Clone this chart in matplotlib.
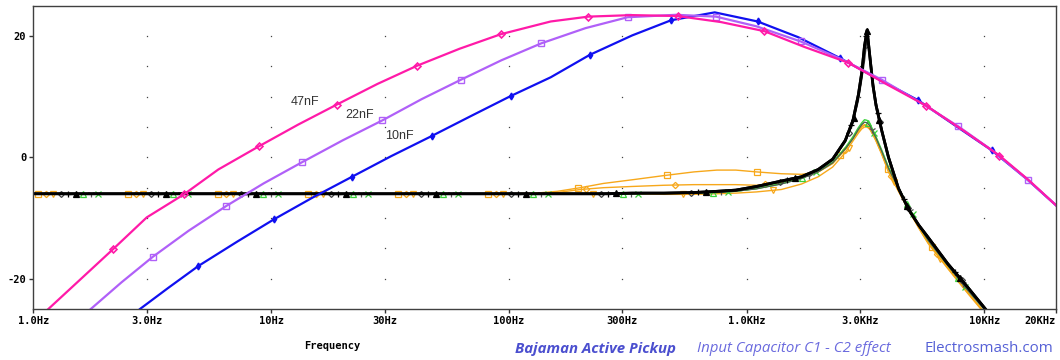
import numpy as np
import matplotlib
matplotlib.use('Agg')
import matplotlib.pyplot as plt

# ---- bandpass curves (C1 = 47nF / 22nF / 10nF), dB vs Hz
hz_47 = [1.157, 1.6, 2.17, 3.0, 4.30, 6.0, 8.87, 13, 18.9, 28, 41.1, 62, 92.5, 150, 216,
         330, 512, 780, 1187, 1750, 2677, 3900, 5700, 8100, 11560, 15300, 20000]
db_47 = [-25.0, -19.9, -15.1, -9.9, -6.1, -2.0, 1.8, 5.4, 8.7, 12.1, 15.1, 17.9, 20.3, 22.4, 23.2,
         23.45, 23.3, 22.3, 20.8, 18.2, 15.6, 12.0, 8.5, 4.5, 0.3, -3.7, -7.9]

hz_22 = [1.745, 2.35, 3.18, 4.5, 6.49, 9.3, 13.5, 20, 29.4, 43, 62.9, 93, 137, 210, 316,
         505, 743, 1100, 1689, 2500, 3700, 5400, 7770, 11000, 15300, 20000]
db_22 = [-25.0, -20.6, -16.4, -12.1, -8.0, -4.3, -0.8, 2.8, 6.1, 9.6, 12.8, 16.0, 18.8, 21.3, 23.1,
         23.5, 23.2, 21.6, 19.1, 16.2, 12.8, 9.0, 5.1, 0.9, -3.8, -7.9]

hz_10 = [2.81, 3.7, 4.95, 7.2, 10.3, 15, 21.9, 32, 47.3, 70, 101.7, 150, 219, 330, 481,
         734, 1112, 1650, 2460, 3500, 5270, 7500, 10740, 15000, 20000]
db_10 = [-25.0, -21.5, -17.9, -13.9, -10.2, -6.6, -3.2, 0.2, 3.5, 6.9, 10.1, 13.2, 16.9, 20.1, 22.6,
         23.9, 22.4, 19.8, 16.4, 13.1, 9.4, 5.3, 1.15, -3.5, -7.9]

# ---- C2 sweep traces (flat at -6 dB with resonance near 3.2kHz)
flat_hz = [1, 100, 130, 160, 200, 250, 330, 450, 600, 750, 900, 1100, 1400, 1700, 2000, 2300,
           2600, 2800, 2950, 3050, 3130, 3210, 3300, 3400, 3500, 3700, 3950, 4350, 4800, 5300,
           5800, 7000, 8500, 10000, 11000]
high_db = [-6.0, -6.0, -6.0, -6.0, -6.0, -6.0, -5.9, -5.9, -5.8, -5.6, -5.4, -4.8, -3.9, -3.2, -2.0, -0.3,
           2.8, 6.1, 10.3, 14.0, 18.3, 21.0, 16.5, 11.8, 8.6, 4.4, 0.0, -5.1, -8.6, -11.2,
           -13.2, -17.5, -21.4, -24.8, -26.8]
high2_db = [-6.0, -6.0, -6.0, -6.0, -6.0, -6.0, -5.9, -5.9, -5.8, -5.6, -5.4, -4.9, -4.0, -3.3, -2.1, -0.5,
            2.5, 5.6, 9.3, 12.8, 15.8, 19.5, 17.3, 12.5, 9.2, 4.8, 0.3, -4.9, -8.5, -11.1,
            -13.1, -17.4, -21.3, -24.7, -26.7]
low_db = [-6.0, -6.0, -6.0, -6.0, -6.0, -6.0, -6.0, -5.9, -5.9, -5.8, -5.6, -5.1, -4.3, -3.4, -2.3, -0.8,
          1.6, 3.4, 4.9, 5.7, 6.2, 6.1, 5.5, 4.5, 3.4, 1.2, -1.6, -5.0, -8.2, -11.2,
          -13.6, -17.7, -21.8, -25.0, -27.0]
low2_db = [-6.0, -6.0, -6.0, -6.0, -6.0, -6.0, -6.0, -5.9, -5.9, -5.8, -5.6, -5.2, -4.4, -3.5, -2.4, -0.9,
           1.4, 3.1, 4.6, 5.4, 5.8, 5.7, 5.2, 4.2, 3.2, 1.0, -1.8, -5.1, -8.3, -11.3,
           -13.7, -17.8, -21.9, -25.1, -27.1]
org_sq_db = [-6.0, -6.0, -5.9, -5.6, -5.0, -4.3, -3.7, -3.0, -2.4, -2.1, -2.1, -2.4, -2.7, -2.8, -2.4, -1.0,
             1.4, 3.3, 4.5, 5.1, 5.4, 5.3, 4.8, 3.9, 2.9, 0.7, -2.2, -5.4, -8.5, -11.5,
             -14.0, -18.1, -22.2, -25.5, -27.5]
org_dm_db = [-6.0, -6.0, -6.0, -5.8, -5.3, -5.0, -4.8, -4.6, -4.5, -4.5, -4.5, -4.6, -4.2, -3.4, -2.4, -1.0,
             1.3, 3.1, 4.3, 5.0, 5.3, 5.2, 4.7, 3.8, 2.8, 0.6, -2.3, -5.5, -8.6, -11.6,
             -14.1, -18.2, -22.3, -25.6, -27.6]
org_v_db = [-6.0, -6.0, -6.0, -6.0, -6.0, -6.0, -6.0, -6.1, -6.1, -6.0, -5.9, -5.7, -5.3, -4.4, -3.2, -1.6,
            0.8, 2.7, 4.0, 4.7, 5.0, 5.0, 4.6, 3.7, 2.7, 0.5, -2.4, -5.6, -8.7, -11.7,
            -14.2, -18.3, -22.4, -25.7, -27.7]

x_ticks = [1, 3, 10, 30, 100, 300, 1000, 3000, 10000, 20000]
x_labels = ['1.0Hz', '3.0Hz', '10Hz', '30Hz', '100Hz', '300Hz', '1.0KHz', '3.0KHz', '10KHz', '20KHz']
y_ticks = [-20, 0, 20]

ORANGE = '#f7a81b'
GREEN = '#3ad23a'
MAGENTA = '#ff1aa8'
PURPLE = '#b060f8'
BLUE = '#1010f0'

fig = plt.figure(figsize=(10.6, 3.6), dpi=100)
ax = fig.add_axes([33.3 / 1060, 1 - 309 / 360, (1056 - 33.3) / 1060, (309 - 5.7) / 360])
ax.set_xscale('log')
ax.set_xlim(1, 20000)
ax.set_ylim(-25, 25)


def marks_along(x, y, start, step, **kw):
    # pspice style: markers at equal screen distance along the trace
    pts = ax.transData.transform(np.column_stack([x, y]))
    d = np.concatenate([[0], np.cumsum(np.hypot(*np.diff(pts, axis=0).T))])
    s = np.arange(start, d[-1], step)
    p = np.column_stack([np.interp(s, d, pts[:, 0]), np.interp(s, d, pts[:, 1])])
    xy = ax.transData.inverted().transform(p)
    ax.plot(xy[:, 0], xy[:, 1], ls='none', **kw)


# grid = dots at intersections only
gx, gy = np.meshgrid(x_ticks[1:-1], np.arange(-20, 25, 5))
ax.plot(gx.ravel(), gy.ravel(), ls='none', marker='s', ms=0.9, color='#444444', mew=0)

# flat traces: (values, colour, lw, marker, marker kwargs)
flat = [
    (org_sq_db, ORANGE, 1.0, 's', dict(mfc='none', ms=3.8)),
    (org_dm_db, ORANGE, 1.0, 'D', dict(mfc='none', ms=3.2)),
    (org_v_db, ORANGE, 1.0, 'v', dict(mfc='none', ms=4)),
    (low_db, GREEN, 1.0, 'x', dict(ms=4)),
    (low2_db, GREEN, 0.8, '^', dict(mfc='none', ms=4)),
    (low2_db, '#555555', 0.8, '1', dict(ms=5)),
    (high2_db, '#444444', 0.9, 'D', dict(mfc='none', ms=3)),
    (high_db, 'black', 2.0, '+', dict(ms=4)),
    (high_db, 'black', 2.0, '^', dict(ms=4.5)),
]
order = [0, 1, 2, 8, 6, 7, 3, 4, 5]  # marker order inside each group
for i, (vals, col, lw, mk, kw) in enumerate(flat):
    ax.plot(flat_hz, vals, color=col, lw=lw, solid_joinstyle='round')
    marks_along(flat_hz, vals, 5 + 7.5 * order[i], 90, marker=mk, color=col, mew=0.9, **kw)

# C1 traces
ax.plot(hz_10, db_10, color=BLUE, lw=1.6, marker='d', ms=3.5, markevery=slice(2, 23, 2))
ax.plot(hz_22, db_22, color=PURPLE, lw=1.6, marker='s', ms=4, mfc='none', mew=1,
        markevery=slice(2, 25, 2))
ax.plot(hz_47, db_47, color=MAGENTA, lw=1.6, marker='D', ms=3.5, mfc='none', mew=1.2,
        markevery=slice(2, 25, 2))

lab = dict(fontsize=9, family='Liberation Sans', color='#333333', va='center', ha='left')
ax.text(12.1, 9.1, '47nF', **lab)
ax.text(20.5, 7.0, '22nF', **lab)
ax.text(30.3, 3.5, '10nF', **lab)

mono = dict(family='DejaVu Sans Mono', weight='bold', size=7.5)
ax.set_xticks(x_ticks)
ax.set_xticklabels(x_labels, **mono)
ax.get_xticklabels()[-1].set_horizontalalignment('right')
ax.minorticks_off()
ax.set_yticks(y_ticks)
ax.set_yticklabels([str(v) for v in y_ticks], **mono)
ax.tick_params(axis='both', direction='out', length=3, width=1, color='#333333', pad=2)
for sp in ax.spines.values():
    sp.set_color('#404040')
    sp.set_linewidth(1.0)

fig.text(332 / 1060, 1 - 345.7 / 360, 'Frequency', ha='center', va='center', **mono)

fy = 1 - 349 / 360
fig.text(515 / 1060, fy, 'Bajaman Active Pickup', family='Open Sans', weight='bold',
         style='italic', size=10.8, color='#4b4fcf', va='center')
fig.text(697 / 1060, fy, 'Input Capacitor C1 - C2 effect', family='Open Sans',
         style='italic', size=10.8, color='#6a6ade', va='center')
fig.text(924 / 1060, fy, 'Electrosmash.com', family='Open Sans', size=10.8,
         color='#5560d6', va='center')

fig.savefig('out.png', dpi=100, facecolor='white')
